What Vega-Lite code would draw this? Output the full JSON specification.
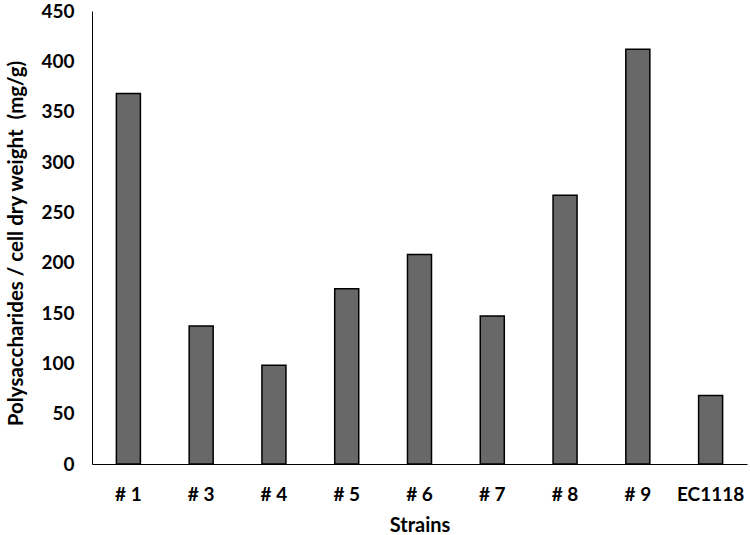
{
  "$schema": "https://vega.github.io/schema/vega-lite/v6.json",
  "width": 655,
  "height": 453,
  "autosize": {"type": "none"},
  "padding": {"left": 92, "top": 11, "right": 3, "bottom": 71},
  "background": "white",
  "data": {
    "values": [
      {"strain": "# 1", "value": 368},
      {"strain": "# 3", "value": 137},
      {"strain": "# 4", "value": 98},
      {"strain": "# 5", "value": 174},
      {"strain": "# 6", "value": 208},
      {"strain": "# 7", "value": 147},
      {"strain": "# 8", "value": 267},
      {"strain": "# 9", "value": 412},
      {"strain": "EC1118", "value": 68}
    ]
  },
  "mark": {"type": "bar", "fill": "#686868", "stroke": "#000000", "strokeWidth": 1.5},
  "encoding": {
    "x": {
      "field": "strain",
      "type": "nominal",
      "sort": null,
      "scale": {"paddingInner": 0.67, "paddingOuter": 0.335},
      "axis": {
        "title": "Strains",
        "labelAngle": 0,
        "ticks": false,
        "domainColor": "#000000",
        "domainWidth": 1,
        "labelFont": "Lato",
        "labelFontWeight": "bold",
        "labelFontSize": 19,
        "labelColor": "#000000",
        "labelPadding": 21,
        "titleFont": "Lato",
        "titleFontWeight": "bold",
        "titleFontSize": 20,
        "titleColor": "#000000",
        "titlePadding": 11
      }
    },
    "y": {
      "field": "value",
      "type": "quantitative",
      "scale": {"domain": [0, 450], "nice": false},
      "axis": {
        "title": "Polysaccharides / cell dry weight \u00a0(mg/g)",
        "values": [0, 50, 100, 150, 200, 250, 300, 350, 400, 450],
        "grid": false,
        "ticks": false,
        "domainColor": "#000000",
        "domainWidth": 1,
        "labelFont": "Lato",
        "labelFontWeight": "bold",
        "labelFontSize": 19,
        "labelColor": "#000000",
        "labelPadding": 18,
        "titleFont": "Lato",
        "titleFontWeight": "bold",
        "titleFontSize": 20.5,
        "titleColor": "#000000",
        "titlePadding": 14,
        "titleY": 232
      }
    }
  },
  "config": {"view": {"stroke": null}}
}
